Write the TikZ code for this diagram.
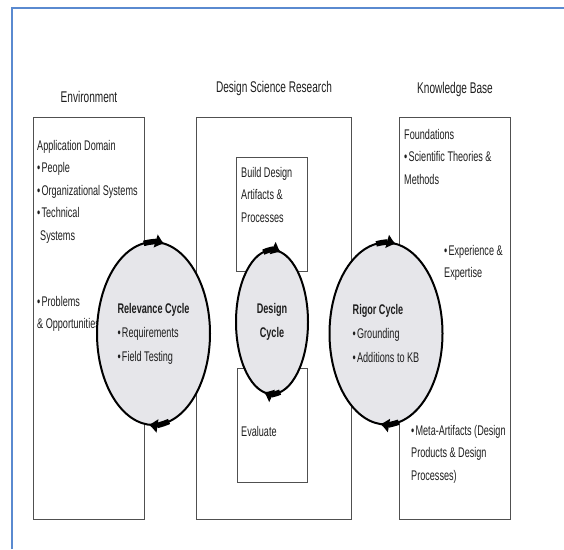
\documentclass[tikz,border=0pt]{standalone}
\usepackage{fontspec}
\setmainfont{Liberation Sans}[FakeStretch=0.65]
\usetikzlibrary{arrows.meta,shapes.geometric}
\newcommand{\dsbul}{\textbullet\kern1.2pt}

\begin{document}
\begin{tikzpicture}[x=1pt,y=-1pt,
	box/.style={draw=cBox, line width=0.9},
	title/.style={font=\fontsize{15.5}{17}\selectfont, text=cText, inner sep=0},
	body/.style={font=\fontsize{14}{22.5}\selectfont, text=cText, align=left, anchor=north west, inner sep=0},
	cyclenode/.style={ellipse, draw=black, line width=2, fill=cCycle, inner sep=0, text=cText, align=left, font=\fontsize{14}{24}\selectfont},
	cyclearrow/.style={line width=5.5, -{Latex[length=9pt,width=15pt]}}]
	\definecolor{cFrame}{HTML}{5A8AD0}
	\definecolor{cBox}{HTML}{505050}
	\definecolor{cCycle}{HTML}{E6E6EA}
	\definecolor{cText}{HTML}{1E1E1E}

	\useasboundingbox (0,0) rectangle (564,549);

	% frame
	\draw[cFrame, line width=1.5] (12,549) -- (12,8) -- (564,8);

	% titles
	\node[title] (envtitle) at (89,97) {Environment};
	\node[title] (dsrtitle) at (274,88) {Design Science Research};
	\node[title] (kbtitle) at (455,89) {Knowledge Base};

	% boxes
	\draw[box] (33,117) rectangle (144,519);
	\draw[box] (196,117) rectangle (351,519);
	\draw[box] (399,117) rectangle (510,519);
	\draw[box] (236,157) rectangle (307,271);
	\draw[box] (237,368) rectangle (307,482);

	% box texts
	\node[body] (appdomain) at (37,140) {Application Domain\\\dsbul People\\\dsbul Organizational Systems\\\dsbul Technical\\\kern3pt Systems};
	\node[body] (problems) at (37,296) {\dsbul Problems\\\& Opportunities};
	\node[body] (build) at (241,167) {Build Design\\Artifacts \&\\Processes};
	\node[body] (evaluate) at (241,426) {Evaluate};
	\node[body] (foundations) at (404,129) {Foundations\\\dsbul Scientific Theories \&\\Methods};
	\node[body] (experience) at (444,245) {\dsbul Experience \&\\Expertise};
	\node[body] (metaartifacts) at (411,425) {\dsbul Meta-Artifacts (Design\\Products \& Design\\Processes)};

	% cycles
	\node[cyclenode, minimum width=113, minimum height=183] (relevance) at (153.5,333.5)
		{{\bfseries Relevance Cycle}\\\dsbul Requirements\\\dsbul Field Testing};
	\node[cyclenode, minimum width=72, minimum height=144, align=center] (design) at (272,322)
		{\bfseries Design\\\bfseries Cycle};
	\node[cyclenode, minimum width=113, minimum height=182] (rigor) at (386,333.5)
		{{\bfseries Rigor Cycle}\\\dsbul Grounding\\\dsbul Additions to KB};

	\draw[cyclearrow] (relevance.center) ++(260:56.5 and 91.5) arc[start angle=260, end angle=281, x radius=56.5, y radius=91.5];
	\draw[cyclearrow] (relevance.center) ++(74:56.5 and 91.5) arc[start angle=74, end angle=95, x radius=56.5, y radius=91.5];
	\draw[cyclearrow] (design.center) ++(256:36 and 72) arc[start angle=256, end angle=284, x radius=36, y radius=72];
	\draw[cyclearrow] (design.center) ++(77:36 and 72) arc[start angle=77, end angle=103, x radius=36, y radius=72];
	\draw[cyclearrow] (rigor.center) ++(260:56.5 and 91) arc[start angle=260, end angle=280, x radius=56.5, y radius=91];
	\draw[cyclearrow] (rigor.center) ++(77:56.5 and 91) arc[start angle=77, end angle=96, x radius=56.5, y radius=91];
\end{tikzpicture}
\end{document}
